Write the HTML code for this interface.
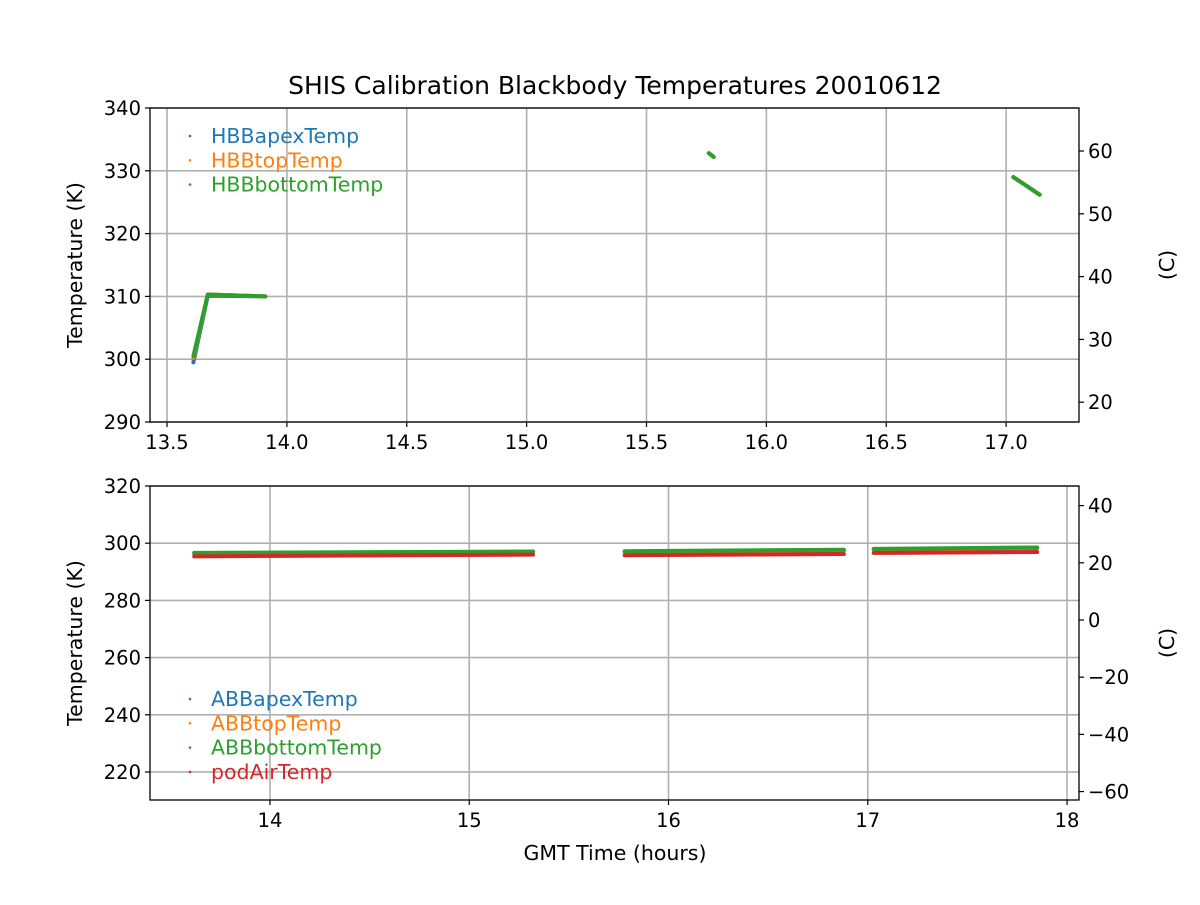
<!DOCTYPE html>
<html><head><meta charset="utf-8"><style>
body{margin:0;background:#fff;}
svg text{font-family:"DejaVu Sans","Liberation Sans",sans-serif;}
</style></head><body>
<svg id="c" width="1200" height="900" xmlns="http://www.w3.org/2000/svg">
<rect width="1200" height="900" fill="#fff"/>
<text x="615" y="94" font-size="25" text-anchor="middle">SHIS Calibration Blackbody Temperatures 20010612</text>
<g id="top"></g><g id="bot"></g>
<text x="615" y="860" font-size="20.5" text-anchor="middle">GMT Time (hours)</text>
</svg>
<script>
const topXTicks=[13.5,14.0,14.5,15.0,15.5,16.0,16.5,17.0];
const topYTicks=[290,300,310,320,330,340];
const topCTicks=[20,30,40,50,60];
const botXTicks=[14,15,16,17,18];
const botYTicks=[220,240,260,280,300,320];
const botCTicks=[-60,-40,-20,0,20,40];
const topNames=["HBBapexTemp","HBBtopTemp","HBBbottomTemp"];
const botNames=["ABBapexTemp","ABBtopTemp","ABBbottomTemp","podAirTemp"];
const colors=["#1f77b4","#ff7f0e","#2ca02c","#d62728"];
const hbbApex=[[[13.61,299.5],[13.67,310.1],[13.91,310.0]],[[15.76,332.8],[15.78,332.2]],[[17.03,329.0],[17.14,326.2]]];
const hbbTop=[[[13.61,300.2],[13.67,310.3],[13.91,310.0]],[[15.76,332.8],[15.78,332.2]],[[17.03,329.0],[17.14,326.2]]];
const hbbBottom=[[[13.61,300.5],[13.67,310.3],[13.91,310.0]],[[15.76,332.8],[15.78,332.2]],[[17.03,329.0],[17.14,326.2]]];
const abbApex=[[[13.62,296.4],[15.32,296.9]],[[15.78,297.0],[16.88,297.5]],[[17.03,297.8],[17.85,298.3]]];
const abbTop=[[[13.62,296.5],[15.32,297.0]],[[15.78,297.1],[16.88,297.6]],[[17.03,297.9],[17.85,298.4]]];
const abbBottom=[[[13.62,296.6],[15.32,297.1]],[[15.78,297.2],[16.88,297.7]],[[17.03,298.0],[17.85,298.5]]];
const podAir=[[[13.62,295.4],[15.32,296.0]],[[15.78,295.8],[16.88,296.2]],[[17.03,296.6],[17.85,296.9]]];
const NS="http://www.w3.org/2000/svg";
function mk(p,t,a){const e=document.createElementNS(NS,t);for(const k in a)e.setAttribute(k,a[k]);p.appendChild(e);return e;}
function panel(g,o){
 const X=v=>o.x0+(v-o.xmin)/(o.xmax-o.xmin)*(o.x1-o.x0);
 const Y=v=>o.y1-(v-o.ymin)/(o.ymax-o.ymin)*(o.y1-o.y0);
 o.xt.forEach(t=>{const x=X(t);
  const l=mk(g,"line",{x1:x,x2:x,y1:o.y0,y2:o.y1,stroke:"#b0b0b0","stroke-width":1.6});
  
  
  mk(g,"line",{x1:x,x2:x,y1:o.y1,y2:o.y1+5,stroke:"#000","stroke-width":1.2});
  const tx=mk(g,"text",{x:x,y:o.y1+27,"font-size":19.5,"text-anchor":"middle"});tx.textContent=o.xl(t);
  
  });
 o.yt.forEach(t=>{const y=Y(t);
  const l=mk(g,"line",{x1:o.x0,x2:o.x1,y1:y,y2:y,stroke:"#b0b0b0","stroke-width":1.6});
  
  
  mk(g,"line",{x1:o.x0-5,x2:o.x0,y1:y,y2:y,stroke:"#000","stroke-width":1.2});
  const tx=mk(g,"text",{x:o.x0-9,y:y+7,"font-size":19.5,"text-anchor":"end"});tx.textContent=t;
  
  });
 o.ct.forEach(t=>{const y=Y(t+273.15);
  mk(g,"line",{x1:o.x1,x2:o.x1+5,y1:y,y2:y,stroke:"#000","stroke-width":1.2});
  const tx=mk(g,"text",{x:o.x1+9,y:y+7,"font-size":19.5});tx.textContent=t<0?"\u2212"+(-t):t;
  
  });
 o.series.forEach((s,i)=>{s.forEach(seg=>{
  const p=mk(g,"polyline",{points:seg.map(d=>X(d[0])+","+Y(d[1])).join(" "),fill:"none",stroke:colors[i],"stroke-width":4,"stroke-linecap":"round","stroke-linejoin":"round"});
  
  });});
 const f=mk(g,"rect",{x:o.x0,y:o.y0,width:o.x1-o.x0,height:o.y1-o.y0,fill:"none",stroke:"#000","stroke-width":1.3});
 
 
 const yt=mk(g,"text",{x:0,y:0,"font-size":20.5,"text-anchor":"middle",transform:`translate(${o.x0-68},${(o.y0+o.y1)/2}) rotate(-90)`});yt.textContent="Temperature (K)";
 
 
 const ct=mk(g,"text",{x:0,y:0,"font-size":20.5,"text-anchor":"middle",transform:`translate(${o.x1+95},${(o.y0+o.y1)/2}) rotate(-90)`});ct.textContent="(C)";
 
 
 o.names.forEach((n,i)=>{const y=o.ly+i*24.3;
  mk(g,"circle",{cx:190,cy:y-7,r:1.3,fill:colors[i]});
  const t=mk(g,"text",{x:211,y:y,"font-size":20.5,fill:colors[i]});t.textContent=n;
  
  });
}
panel(document.getElementById("top"),{x0:150,x1:1079,y0:108,y1:422,xmin:13.429,xmax:17.304,ymin:290,ymax:340,xt:topXTicks,yt:topYTicks,ct:topCTicks,xl:t=>t.toFixed(1),series:[hbbApex,hbbTop,hbbBottom],names:topNames,ly:143});
panel(document.getElementById("bot"),{x0:150,x1:1079,y0:486,y1:800,xmin:13.398,xmax:18.06,ymin:210.2,ymax:320,xt:botXTicks,yt:botYTicks,ct:botCTicks,xl:t=>t,series:[abbApex,abbTop,abbBottom,podAir],names:botNames,ly:706});
</script>
</body></html>
